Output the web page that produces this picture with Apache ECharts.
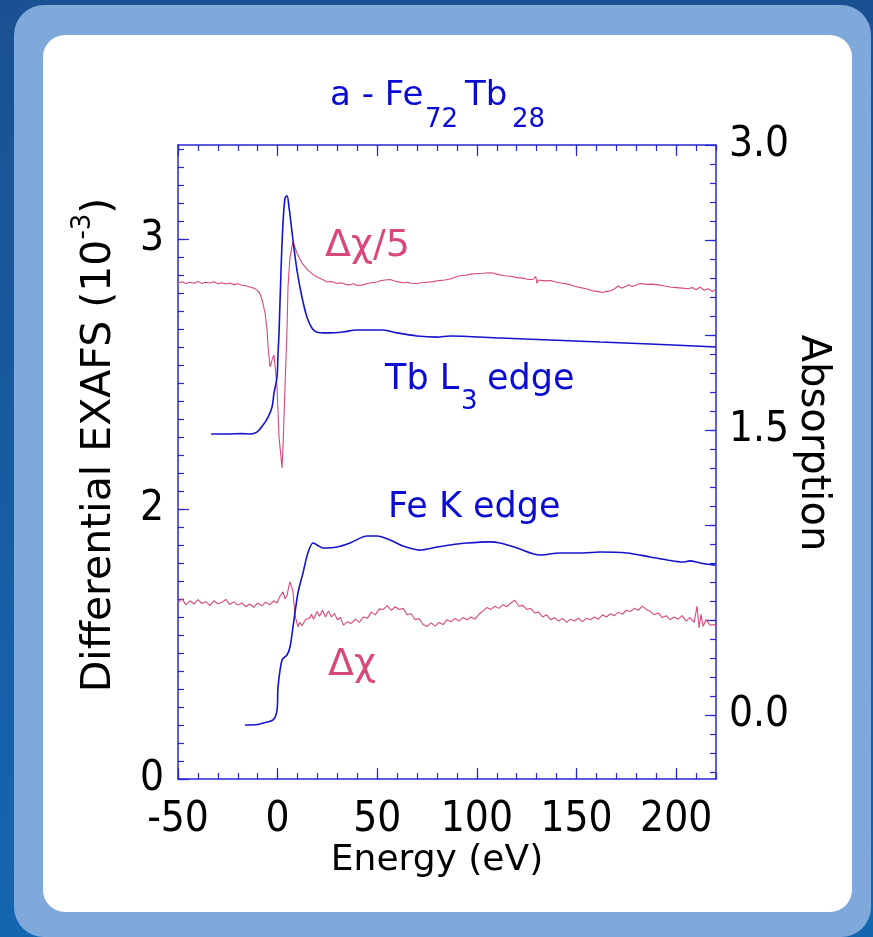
<!DOCTYPE html>
<html>
<head>
<meta charset="utf-8">
<script src="https://cdn.jsdelivr.net/npm/echarts@6/dist/echarts.min.js"></script>
<style>
  html, body { margin: 0; padding: 0; width: 873px; height: 937px; overflow: hidden; }
  #chart { width: 873px; height: 937px; }
</style>
</head>
<body>
<div id="chart"></div>
<script>
// ---------- DATA ----------
// Tb L3 edge absorption (right axis)
const tbEdge = [[-33.4,1.479],[-25,1.479],[-18,1.481],[-13.9,1.479],[-10.4,1.489],[-7.3,1.526],[-4.8,1.568],[-2.8,1.621],[-1.8,1.695],[-0.3,1.779],[0.2,1.905],[0.7,2.011],[1.7,2.342],[2.7,2.589],[3.7,2.721],[4.7,2.732],[5.7,2.674],[7.7,2.5],[9.7,2.342],[12.2,2.2],[14.7,2.095],[17.2,2.037],[19.5,2.016],[24.8,2.011],[32.8,2.016],[39.8,2.026],[52.9,2.026],[59.9,2.011],[69.9,1.995],[80,1.989],[86.5,1.995],[111.6,1.984],[136.7,1.974],[161.8,1.963],[186.9,1.953],[220,1.937]];

// Fe K edge absorption (right axis)
const feEdge = [[-16.4,-0.053],[-10,-0.05],[-7.3,-0.042],[-2.3,-0.026],[-0.3,0.026],[0.2,0.147],[2.2,0.289],[4.7,0.316],[6.2,0.358],[7.7,0.463],[10.2,0.642],[12.7,0.747],[15.2,0.853],[17.8,0.905],[19.8,0.895],[22.8,0.879],[29.8,0.884],[36.3,0.905],[44.9,0.942],[49.9,0.942],[56.4,0.921],[62.9,0.889],[71.4,0.868],[80,0.884],[86.5,0.895],[95,0.905],[106.6,0.911],[111.6,0.905],[120.1,0.879],[131.7,0.842],[141.7,0.853],[153.3,0.853],[161.8,0.858],[175.3,0.853],[186.9,0.832],[195.4,0.816],[203.4,0.805],[206.9,0.811],[212,0.8],[219.5,0.789]];

// Differential EXAFS of Tb edge / 5 (left axis)
const dChiTb = [[-50,2.837],[-48,2.842],[-46,2.835],[-44,2.84],[-42,2.836],[-40,2.843],[-38,2.835],[-36,2.84],[-34,2.837],[-32,2.842],[-30,2.834],[-28,2.838],[-26,2.833],[-24,2.837],[-22,2.831],[-20,2.834],[-18,2.829],[-16,2.827],[-14,2.822],[-12,2.818],[-10.4,2.811],[-9,2.8],[-7.8,2.774],[-6.3,2.726],[-5.3,2.663],[-4.8,2.6],[-3.8,2.526],[-2.5,2.56],[-1.8,2.57],[-0.3,2.452],[0.7,2.267],[2.2,2.152],[2.7,2.23],[3.7,2.452],[4.7,2.663],[5.2,2.822],[6.2,2.933],[7.7,2.989],[9.7,2.948],[12.2,2.911],[15.2,2.885],[17.5,2.87],[19.8,2.859],[22,2.852],[24.8,2.841],[27,2.843],[29.8,2.835],[32,2.838],[34,2.832],[36.3,2.83],[38,2.834],[40,2.828],[42.8,2.83],[45,2.835],[47,2.838],[49.9,2.841],[52,2.846],[54,2.848],[56.4,2.85],[58,2.846],[60,2.842],[62.9,2.838],[65,2.84],[67,2.836],[69.9,2.835],[72,2.838],[75,2.84],[78,2.842],[81,2.846],[84,2.848],[86.5,2.852],[89,2.858],[91.5,2.864],[94,2.866],[97,2.87],[100,2.872],[103,2.873],[106,2.875],[108,2.874],[111,2.868],[114,2.864],[117,2.862],[120,2.857],[123,2.855],[126,2.85],[128,2.85],[129.5,2.862],[130.2,2.836],[131,2.848],[134,2.845],[137,2.846],[140,2.84],[143,2.836],[146,2.832],[149,2.825],[152,2.82],[155,2.816],[158,2.808],[161,2.805],[163,2.802],[165,2.806],[167,2.808],[168.5,2.813],[169.5,2.806],[171,2.826],[172.5,2.818],[174,2.822],[176,2.83],[178,2.824],[180,2.83],[182,2.835],[185,2.832],[188,2.833],[191,2.83],[194,2.826],[197,2.822],[200,2.82],[203,2.818],[206,2.816],[208,2.82],[210,2.812],[212,2.822],[214,2.81],[216,2.816],[218,2.806],[219.5,2.811]];

// Differential EXAFS of Fe edge (left axis)
const dChiFe = [[-50,1.652],[-48,1.668],[-46,1.645],[-44,1.66],[-42,1.648],[-40,1.664],[-38,1.65],[-36,1.657],[-34,1.642],[-32,1.66],[-30,1.649],[-28,1.655],[-26,1.665],[-24,1.646],[-22,1.656],[-20,1.644],[-18,1.652],[-16,1.638],[-14,1.648],[-12,1.636],[-10,1.652],[-8,1.641],[-6,1.655],[-4,1.645],[-2,1.66],[-0.3,1.652],[1,1.675],[2.7,1.693],[3.7,1.668],[4.7,1.68],[5.5,1.71],[6.2,1.73],[7,1.712],[7.7,1.695],[8.7,1.607],[10.2,1.563],[11,1.58],[12.2,1.568],[14,1.59],[16.2,1.596],[17,1.61],[18,1.592],[19.8,1.62],[21,1.603],[22.5,1.625],[24,1.6],[25.5,1.622],[27,1.6],[28.5,1.613],[30,1.59],[31.5,1.598],[33,1.57],[35,1.582],[37,1.576],[39,1.592],[41,1.58],[43,1.6],[45,1.595],[47,1.618],[49,1.608],[51,1.63],[53,1.628],[55,1.642],[57,1.625],[59,1.638],[61,1.628],[63,1.632],[65,1.608],[67,1.612],[69,1.59],[71,1.594],[73,1.572],[75,1.565],[77,1.578],[79,1.566],[81,1.58],[83,1.572],[85,1.59],[87,1.582],[89,1.595],[91,1.585],[93,1.598],[95,1.59],[97,1.6],[99,1.592],[101,1.61],[103,1.622],[105,1.635],[107,1.628],[109,1.64],[111,1.632],[113,1.645],[115,1.638],[117,1.652],[119,1.662],[121,1.64],[123,1.643],[125,1.628],[127,1.632],[129,1.615],[131,1.618],[133,1.6],[135,1.608],[137,1.59],[139,1.598],[141,1.585],[143,1.595],[145,1.58],[147,1.592],[149,1.585],[151,1.596],[153,1.583],[155,1.595],[157,1.59],[159,1.6],[161,1.592],[163,1.608],[165,1.6],[167,1.612],[169,1.605],[171,1.618],[173,1.61],[175,1.625],[177,1.62],[179,1.632],[181,1.625],[183,1.64],[185,1.628],[187,1.62],[189,1.608],[191,1.615],[193,1.598],[195,1.605],[197,1.59],[199,1.6],[201,1.592],[203,1.605],[205,1.585],[207,1.598],[209,1.58],[210.5,1.64],[211.5,1.56],[212.5,1.61],[213.5,1.565],[215,1.59],[217,1.57],[219,1.572],[220,1.565]];

// Tick labels
const xTickValues = [-50, 0, 50, 100, 150, 200];
const leftTickValues = [1, 2, 3];
const leftTickLabels = ['0', '2', '3'];
const rightTickValues = [0, 1.5, 3];
const rightTickLabels = ['0.0', '1.5', '3.0'];

// ---------- STYLE ----------
const axisColor = '#2626d4';
const blue = '#1414cc';
const pink = '#d9487a';
const numFont = "'Liberation Sans Narrow','DejaVu Sans Condensed','Liberation Sans',sans-serif";
const txtFont = "'DejaVu Sans',sans-serif";

const xMin = -50, xMax = 220;
const lMin = 1, lMax = 1 + 634 / 270;
const rMin = -64 / 190, rMax = 3.0;

function range(a, b, step) { const out = []; for (let i = 0; a + i * step <= b + 1e-9; i++) out.push(+(a + i * step).toFixed(6)); return out; }
const xMinor = range(-50, 220, 10);
const lMinor = range(1, lMax, 1 / 15);
const rMajor = range(0, 3, 0.5);
const rMinor = range(-0.3, 2.95, 0.1);

const lineStyle = { color: axisColor, width: 1.5 };

function xAx(pos, ticks, len, showLine, labels) {
  return {
    type: 'value', position: pos, min: xMin, max: xMax,
    axisLine: { show: showLine, onZero: false, lineStyle },
    axisTick: { show: true, inside: true, length: len, customValues: ticks, lineStyle: { color: axisColor, width: 1.2 } },
    axisLabel: labels ? { show: true, customValues: xTickValues, margin: 20, fontSize: 42, color: '#000', fontFamily: numFont } : { show: false },
    splitLine: { show: false }
  };
}
function yAx(pos, min, max, ticks, len, showLine, labels) {
  return {
    type: 'value', position: pos, min: min, max: max,
    axisLine: { show: showLine, onZero: false, lineStyle },
    axisTick: { show: true, inside: true, length: len, customValues: ticks, lineStyle: { color: axisColor, width: 1.2 } },
    axisLabel: labels ? Object.assign({ show: true, fontSize: 42, color: '#000', fontFamily: numFont }, labels) : { show: false },
    splitLine: { show: false }
  };
}

const chart = echarts.init(document.getElementById('chart'), null, { renderer: 'canvas' });

const option = {
  animation: false,
  backgroundColor: {
    type: 'linear', x: 0, y: 0, x2: 0, y2: 1,
    colorStops: [{ offset: 0, color: '#1a5192' }, { offset: 1, color: '#1466b0' }]
  },
  grid: { left: 178, top: 145, width: 538, height: 634 },
  xAxis: [
    xAx('bottom', xTickValues, 11, true, true),
    xAx('bottom', xMinor, 6, false, false),
    xAx('top', xTickValues, 11, true, false),
    xAx('top', xMinor, 6, false, false)
  ],
  yAxis: [
    yAx('left', lMin, lMax, leftTickValues, 11, true, {
      customValues: leftTickValues, margin: 14,
      formatter: v => leftTickLabels[leftTickValues.indexOf(Math.round(v))]
    }),
    yAx('left', lMin, lMax, lMinor, 6, false, null),
    yAx('right', rMin, rMax, rMajor, 11, true, {
      customValues: rightTickValues, margin: 13,
      formatter: v => rightTickLabels[rightTickValues.indexOf(Math.round(v * 2) / 2)]
    }),
    yAx('right', rMin, rMax, rMinor, 6, false, null)
  ],
  graphic: [
    { type: 'rect', z: -20, silent: true, shape: { x: 14, y: 5, width: 857, height: 932, r: 30 }, style: { fill: '#7fa9da' } },
    { type: 'rect', z: -19, silent: true, shape: { x: 43, y: 35, width: 809, height: 877, r: 22 }, style: { fill: '#ffffff' } },
    // title
    { type: 'text', z: 50, x: 330, y: 96, style: { text: 'a - Fe', font: '34px ' + txtFont, fill: '#0a0ad2', verticalAlign: 'middle' } },
    { type: 'text', z: 50, x: 425, y: 120, style: { text: '72', font: '26px ' + txtFont, fill: '#0a0ad2', verticalAlign: 'middle' } },
    { type: 'text', z: 50, x: 465, y: 96, style: { text: 'Tb', font: '34px ' + txtFont, fill: '#0a0ad2', verticalAlign: 'middle' } },
    { type: 'text', z: 50, x: 512, y: 120, style: { text: '28', font: '26px ' + txtFont, fill: '#0a0ad2', verticalAlign: 'middle' } },
    // in-plot labels
    { type: 'text', z: 50, x: 325, y: 246, style: { text: 'Δχ/5', font: '38px ' + txtFont, fill: pink, verticalAlign: 'middle' } },
    { type: 'text', z: 50, x: 385, y: 380, style: { text: 'Tb L', font: '35px ' + txtFont, fill: '#0a0ad2', verticalAlign: 'middle' } },
    { type: 'text', z: 50, x: 461, y: 402, style: { text: '3', font: '26px ' + txtFont, fill: '#0a0ad2', verticalAlign: 'middle' } },
    { type: 'text', z: 50, x: 487, y: 380, style: { text: 'edge', font: '35px ' + txtFont, fill: '#0a0ad2', verticalAlign: 'middle' } },
    { type: 'text', z: 50, x: 388, y: 508, style: { text: 'Fe K edge', font: '35px ' + txtFont, fill: '#0a0ad2', verticalAlign: 'middle' } },
    { type: 'text', z: 50, x: 328, y: 665, style: { text: 'Δχ', font: '38px ' + txtFont, fill: pink, verticalAlign: 'middle' } },
    // axis names
    { type: 'text', z: 50, x: 437, y: 861, style: { text: 'Energy (eV)', font: '36px ' + txtFont, fill: '#000', align: 'center', verticalAlign: 'middle' } },
    { type: 'text', z: 50, x: 95, y: 445, rotation: Math.PI / 2,
      style: { text: '{m|Differential EXAFS (10}{s|-3}{m|)}', align: 'center', verticalAlign: 'middle', fill: '#000',
        rich: { m: { fontSize: 41, fontFamily: txtFont, lineHeight: 50, verticalAlign: 'bottom' }, s: { fontSize: 26, fontFamily: txtFont, lineHeight: 50, verticalAlign: 'top' } } } },
    { type: 'text', z: 50, x: 812, y: 443, rotation: -Math.PI / 2,
      style: { text: 'Absorption', font: '40px ' + txtFont, fill: '#000', align: 'center', verticalAlign: 'middle' } }
  ],
  series: [
    { type: 'line', name: 'Δχ/5', xAxisIndex: 0, yAxisIndex: 0, data: dChiTb, showSymbol: false, lineStyle: { color: pink, width: 1.1 }, z: 3 },
    { type: 'line', name: 'Δχ', xAxisIndex: 0, yAxisIndex: 0, data: dChiFe, showSymbol: false, lineStyle: { color: pink, width: 1.1 }, z: 3 },
    { type: 'line', name: 'Tb L3 edge', xAxisIndex: 0, yAxisIndex: 2, data: tbEdge, showSymbol: false, smooth: 0.3, lineStyle: { color: blue, width: 1.6 }, z: 4 },
    { type: 'line', name: 'Fe K edge', xAxisIndex: 0, yAxisIndex: 2, data: feEdge, showSymbol: false, smooth: 0.3, lineStyle: { color: blue, width: 1.6 }, z: 4 }
  ]
};
chart.setOption(option);
</script>
</body>
</html>
